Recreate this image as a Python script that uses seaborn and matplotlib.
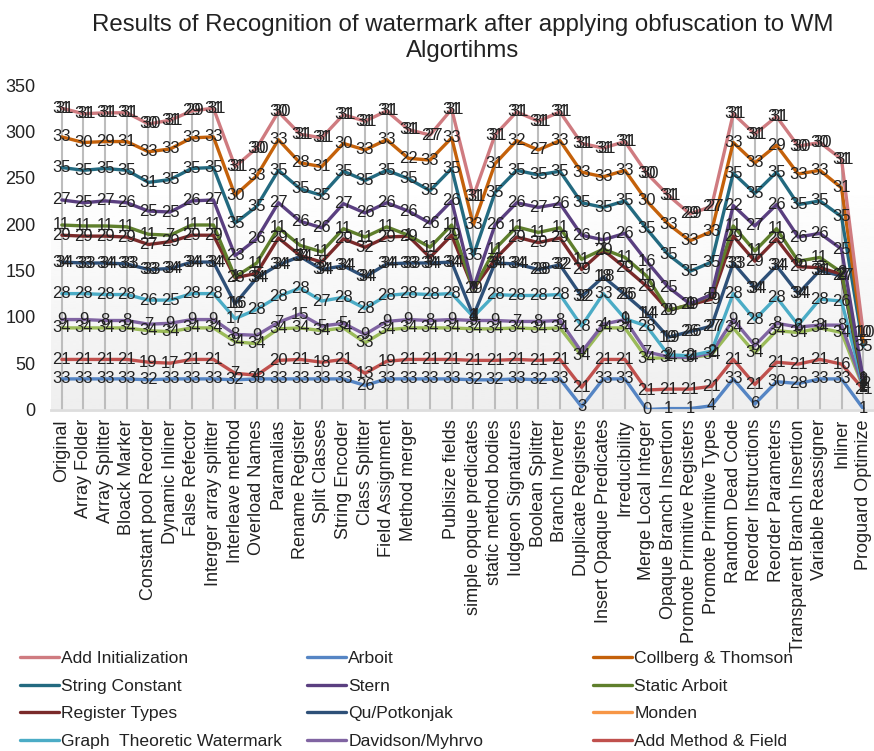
import numpy as np
import pandas as pd
import matplotlib
matplotlib.use("Agg")
import matplotlib.pyplot as plt
from matplotlib.lines import Line2D
import seaborn as sns

categories = ["Original", "Array Folder", "Array Splitter", "Bloack Marker", "Constant pool Reorder",
              "Dynamic Inliner", "False Refector", "Interger array splitter", "Interleave method",
              "Overload Names", "Paramalias", "Rename Register", "Split Classes", "String Encoder",
              "Class Splitter", "Field Assignment", "Method merger", "", "Publisize fields",
              "simple opque predicates", "static method bodies", "Iudgeon Signatures", "Boolean Splitter",
              "Branch Inverter", "Duplicate Registers", "Insert Opaque Predicates", "Irreducibility",
              "Merge Local Integer", "Opaque Branch Insertion", "Promote Primitive Registers",
              "Promote Primitive Types", "Random Dead Code", "Reorder Instructions", "Reorder Parameters",
              "Transparent Branch Insertion", "Variable Reassigner", "Inliner", "Proguard Optimize"]

arboit = [33,33,33,33,32,33,33,33,32,33,33,33,33,33,26,33,33,33,33,32,32,33,32,33,3,33,33,0,1,1,4,33,6,30,28,33,33,1]
add_method = [21,21,21,21,19,17,21,21,7,4,20,21,18,21,13,19,21,21,21,21,21,21,21,21,21,21,21,21,21,21,21,21,21,21,21,21,16,21]
unnamed = [34,34,34,34,34,34,34,34,34,34,34,34,34,34,33,34,34,34,34,34,34,34,34,34,34,34,34,34,34,34,34,34,34,34,34,34,34,2]
davidson = [9,9,8,8,7,9,9,9,8,9,7,15,5,5,9,9,9,8,9,9,9,7,8,8,4,4,9,7,1,0,2,9,8,8,6,3,8,1]
graph = [28,28,28,28,26,25,28,28,17,28,28,28,27,28,28,28,28,28,28,4,28,28,28,28,28,33,1,28,2,2,2,28,28,28,2,28,26,1]
qu = [34,33,34,33,33,34,34,34,16,34,34,34,34,34,34,34,33,34,34,1,34,34,28,32,32,18,26,14,19,26,27,33,34,34,34,31,27,2]
register = [29,29,29,29,27,29,29,29,28,5,29,1,8,29,32,29,29,6,29,29,4,29,29,29,29,29,29,29,29,29,29,29,29,29,29,3,2,2]
static_arboit = [11,11,11,11,11,7,11,11,1,11,11,11,11,11,11,11,1,11,11,0,11,11,11,11,11,1,11,11,0,0,5,11,11,11,6,11,2,2]
stern = [27,25,27,26,25,25,26,27,23,26,27,26,26,27,26,26,26,26,26,1,26,26,27,26,26,10,26,16,25,1,0,22,27,26,26,26,25,1]
string_constant = [35,35,35,35,31,35,35,35,35,35,35,35,35,35,35,35,35,35,35,35,35,35,35,35,35,35,35,35,35,35,35,35,35,35,35,35,35,35]
collberg = [33,30,29,31,33,33,33,33,30,33,33,28,31,30,33,33,22,33,33,33,31,32,27,33,33,33,33,30,33,33,33,33,33,29,33,33,31,5]
add_init = [31,31,31,31,30,31,29,31,31,30,30,31,31,31,31,31,31,27,31,31,31,31,31,31,31,31,31,30,31,29,27,31,31,31,30,30,31,10]

stack_names = ["Arboit", "Add Method & Field", "(unnamed)", "Davidson/Myhrvo", "Graph  Theoretic Watermark",
               "Qu/Potkonjak", "Register Types", "Static Arboit", "Stern", "String Constant",
               "Collberg & Thomson", "Add Initialization"]
stack_values = [arboit, add_method, unnamed, davidson, graph, qu, register, static_arboit, stern,
                string_constant, collberg, add_init]
colors = {"Add Initialization": "#CF7B80", "Arboit": "#5585C4", "Collberg & Thomson": "#C4610A",
          "String Constant": "#236A80", "Stern": "#5A3F80", "Static Arboit": "#5F7F2C",
          "Register Types": "#7A2A2A", "Qu/Potkonjak": "#2E5078", "Monden": "#F79646",
          "Graph  Theoretic Watermark": "#4BACC6", "Davidson/Myhrvo": "#8064A2",
          "Add Method & Field": "#C0504D", "(unnamed)": "#9BBB59"}
legend_columns = [["Add Initialization", "String Constant", "Register Types", "Graph  Theoretic Watermark"],
                  ["Arboit", "Stern", "Qu/Potkonjak", "Davidson/Myhrvo"],
                  ["Collberg & Thomson", "Static Arboit", "Monden", "Add Method & Field"]]
twin_label_series = ["Qu/Potkonjak", "Add Initialization"]
title = "Results of Recognition of watermark after applying obfuscation to WM\nAlgortihms"

sns.set_style("white")
plt.rcParams["font.family"] = ["Liberation Sans", "DejaVu Sans"]

W, H = 874, 751
fig = plt.figure(figsize=(W / 100, H / 100), dpi=100)
ax = fig.add_axes([51 / W, 1 - 409.5 / H, 823 / W, 324.5 / H])

# grey wash rising from the bottom of the plot
grad = np.ones((256, 1))
grad[:, 0] = np.clip((np.linspace(1, 0, 256) - 0.30) / 0.70, 0, 1) * 0.065 + 0.0
ax.imshow(1 - grad[::1], extent=(0, 1, 1, 0), transform=ax.transAxes, cmap="gray", vmin=0, vmax=1,
          aspect="auto", zorder=0, interpolation="bilinear")

pos = np.arange(len(categories))
cum = np.cumsum(np.array(stack_values), axis=0)
long = pd.concat([pd.DataFrame({"pos": pos, "cum": cum[i], "series": n, "value": stack_values[i]})
                  for i, n in enumerate(stack_names)])

ax.vlines(pos, 0, cum[-1], color="#BDBDBD", lw=1.5, zorder=1)
sns.lineplot(data=long, x="pos", y="cum", hue="series", hue_order=stack_names, palette=colors,
             estimator=None, sort=False, lw=2.4, legend=False, ax=ax, zorder=2)
for line in ax.get_lines():
    line.set_solid_joinstyle("round")

for name, grp in long.groupby("series", sort=False):
    for _, row in grp.iterrows():
        ax.annotate(str(row["value"]), (row["pos"], row["cum"]), ha="center", va="center",
                    fontsize=12, color="#222222", zorder=4)
        if name in twin_label_series:
            ax.annotate(str(row["value"]), (row["pos"], row["cum"]), xytext=(3, 0), textcoords="offset pixels",
                        ha="center", va="center", fontsize=12, color="#222222", zorder=4)

ax.set_xlim(-0.5, 37.5)
ax.set_ylim(0, 350)
ax.set_yticks(np.arange(0, 351, 50))
ax.set_xticks(pos)
ax.set_xticklabels(categories, rotation=90, fontsize=13, color="#222222")
ax.tick_params(axis="x", length=0, pad=7)
ax.tick_params(axis="y", length=0, pad=11, labelsize=13, labelcolor="#222222")
ax.set_xlabel("")
ax.set_ylabel("")
sns.despine(ax=ax, left=True, right=True, top=True, bottom=False)
ax.spines["bottom"].set_color("#DDDDDD")
ax.spines["bottom"].set_linewidth(2)
ax.set_title(title, fontsize=17.3, color="#222222", pad=20.5, linespacing=1.2)

for col, x in zip(legend_columns, (7.5, 294.5, 580.5)):
    handles = [Line2D([], [], color=colors[n], lw=2.4) for n in col]
    fig.legend(handles, col, loc="upper left", bbox_to_anchor=(x / W, 1 - 638.5 / H), frameon=False,
               ncol=1, fontsize=12.6, handlelength=2.25, handletextpad=0.12, labelspacing=0.71,
               borderpad=0.2, labelcolor="#222222")

fig.savefig("out.png", dpi=100)
